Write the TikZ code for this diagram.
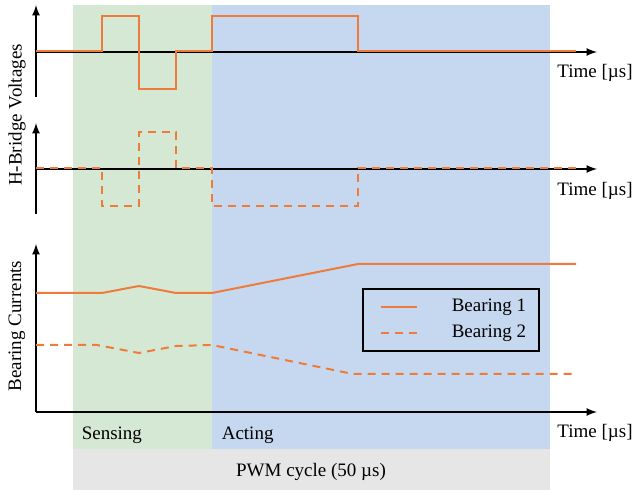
\documentclass[tikz,border=0pt]{standalone}
\usepackage{fontspec}
\setmainfont{Liberation Serif}
\usetikzlibrary{arrows,positioning}
\definecolor{sensegreen}{HTML}{D5E8D4}
\definecolor{actblue}{HTML}{C6D8EF}
\definecolor{cyclegray}{HTML}{E6E6E6}
\definecolor{sigorange}{HTML}{EE7B3A}

\begin{document}
\begin{tikzpicture} [x=0.5pt,y=-0.5pt,line width=0.8pt,
  axis/.style={->,>=latex,black},
  sig/.style={sigorange,line width=1pt},
  sigdash/.style={sig,dash pattern=on 4pt off 3pt},
  lbl/.style={font=\fontsize{9.5}{11}\selectfont,inner sep=0pt}]

  \useasboundingbox (0,0) rectangle (635,490);

  % phases of the cycle
  \fill[sensegreen] (73,5) rectangle (212,449);
  \fill[actblue] (212,5) rectangle (550,449);
  \fill[cyclegray] (73,449) rectangle (550,490);

  % axes
  \foreach \n/\top/\zero/\bot in {1/5/52/97,2/123/169/214,3/244/412/412} {
    \coordinate (top\n) at (36,\top);
    \coordinate (bot\n) at (36,\bot);
    \coordinate (org\n) at (36,\zero);
    \coordinate (end\n) at (597,\zero);
    \draw[axis] (bot\n) -- (top\n);
    \draw[axis] (org\n) -- (end\n);
  }

  \node[lbl] (time1) at (595,73) {Time [µs]};
  \node[lbl] (time2) at (595,191) {Time [µs]};
  \node[lbl] (time3) at (595,433) {Time [µs]};

  \node[lbl,rotate=90] (volt) at (17,115) {H-Bridge Voltages};
  \node[lbl,rotate=90] (curr) at (17,326) {Bearing Currents};

  % h-bridge voltages
  \draw[sig] (36,51) -- (102,51) -- (102,16) -- (139,16) -- (139,89) -- (176,89)
    -- (176,51) -- (212,51) -- (212,16) -- (358,16) -- (358,51) -- (576,51);
  \draw[sigdash] (36,168) -- (102,168) -- (102,206) -- (139,206) -- (139,132) -- (176,132)
    -- (176,168) -- (212,168) -- (212,206) -- (358,206) -- (358,168) -- (576,168);

  % bearing currents
  \draw[sig] (36,293) -- (102,293) -- (139,286) -- (176,293) -- (212,293)
    -- (358,264) -- (576,264);
  \draw[sigdash] (36,345) -- (97,345) -- (139,353) -- (176,346) -- (212,345)
    -- (353,374) -- (576,374);

  % legend
  \draw[line width=1pt] (363,289) rectangle (539,351);
  \coordinate (l1a) at (381,307);
  \coordinate (l1b) at (417,307);
  \coordinate (l2a) at (381,333);
  \coordinate (l2b) at (417,333);
  \draw[sig] (l1a) -- (l1b);
  \draw[sigdash] (l2a) -- (l2b);
  \node[lbl,anchor=east] (leg1) at (527,307) {Bearing 1};
  \node[lbl,anchor=east] (leg2) at (527,333) {Bearing 2};

  % phase labels
  \node[lbl,anchor=west] (sense) at (81,435) {Sensing};
  \node[lbl,anchor=west] (act) at (221,435) {Acting};
  \node[lbl] (pwm) at (311,472) {PWM cycle (50 µs)};

\end{tikzpicture}
\end{document}
